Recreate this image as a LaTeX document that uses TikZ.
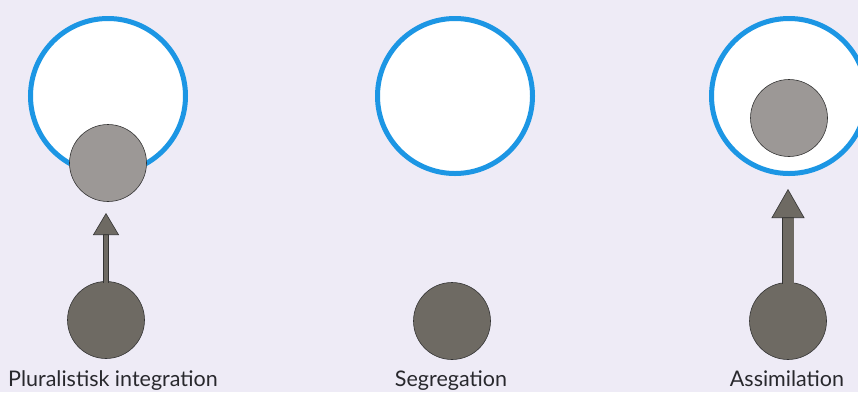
\documentclass[tikz,border=0pt]{standalone}
\usepackage{fontspec}
\setmainfont{Lato}
\usepackage{tikz}
\usetikzlibrary{positioning,arrows.meta,calc}

\definecolor{paper}{RGB}{238,235,246}
\definecolor{ringblue}{RGB}{28,150,228}
\definecolor{lightdisc}{RGB}{156,152,150}
\definecolor{darkdisc}{RGB}{110,106,99}
\definecolor{labelgray}{RGB}{40,40,45}

\begin{document}
\begin{tikzpicture}[
  x=1pt, y=-1pt,
  society/.style={circle, draw=ringblue, line width=5pt, fill=white, minimum size=155pt, inner sep=0pt},
  group/.style={circle, draw=black!80, line width=0.6pt, fill=darkdisc, minimum size=77pt, inner sep=0pt},
  joined/.style={group, fill=lightdisc},
  caption/.style={anchor=base, font=\fontsize{21.5}{24}\selectfont, text=labelgray},
  shaftline/.style={draw=black!80, line width=#1+1.2pt, shorten <=-2pt},
  shaftfill/.style={draw=darkdisc, line width=#1, shorten <=-2pt}
]
\useasboundingbox[fill=paper] (0,0) rectangle (858,392);

% pluralistisk integration
\node[society] (ringA) at (108,96) {};
\node[joined] (joinA) at (108,163) {};
\node[group] (groupA) at (106,320) {};
\coordinate (tipA) at (106,213);
\node[caption] (capA) at (113,386) {Pluralistisk integration};

% segregation
\node[society] (ringB) at (455,96) {};
\node[group] (groupB) at (452,321) {};
\node[caption] (capB) at (451,386) {Segregation};

% assimilation
\node[society] (ringC) at (789,96) {};
\node[joined] (joinC) at (789,118) {};
\node[group] (groupC) at (788,321) {};
\coordinate (tipC) at (788,189);
\node[caption] (capC) at (787,386) {Assimilation};

% arrows
\draw[shaftline=4.5pt, shorten >=20pt] (groupA.north) -- (tipA);
\draw[shaftfill=4.5pt, -{Triangle[width=26pt, length=22pt, line width=0.6pt, color=black!80, fill=darkdisc]}] (groupA.north) -- (tipA);
\draw[shaftline=11pt, shorten >=27pt] (groupC.north) -- (tipC);
\draw[shaftfill=11pt, -{Triangle[width=33pt, length=29pt, line width=0.6pt, color=black!80, fill=darkdisc]}] (groupC.north) -- (tipC);
\end{tikzpicture}
\end{document}
